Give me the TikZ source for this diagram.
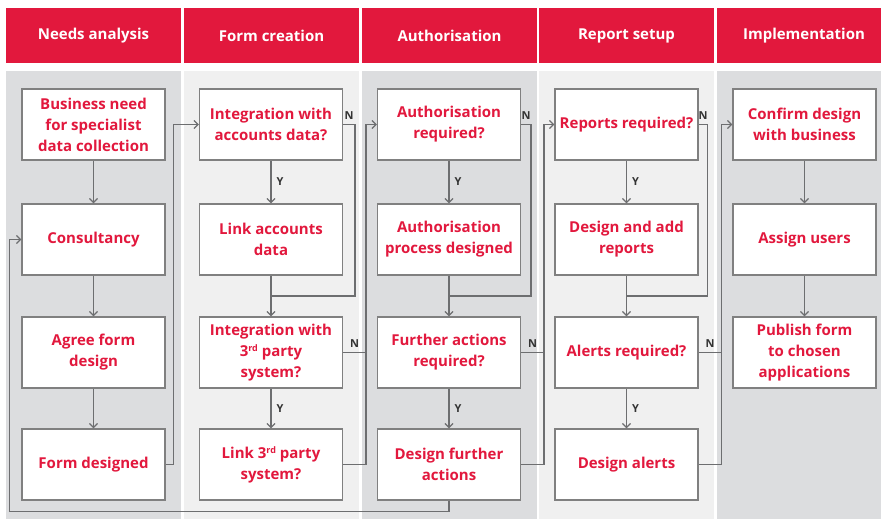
\documentclass[tikz,border=0pt]{standalone}
\usepackage{fontspec}
\setmainfont{Open Sans}
\usetikzlibrary{arrows.meta,calc}
\definecolor{brandred}{HTML}{E2183D}
\definecolor{darkpanel}{HTML}{DCDDDF}
\definecolor{lightpanel}{HTML}{F0F0F0}
\definecolor{linegray}{HTML}{6D6E70}
\definecolor{boxgray}{HTML}{808080}

\begin{document}
\begin{tikzpicture}[x=1pt, y=-1pt,
    headbox/.style={fill=brandred, text=white, minimum width=175pt, minimum height=55pt, inner sep=0pt, font=\fontsize{15}{18}\selectfont\bfseries},
    procbox/.style={draw=boxgray, line width=1.2pt, fill=white, text=brandred, minimum width=143pt, minimum height=71pt, inner sep=2pt, align=center, font=\fontsize{15}{21}\selectfont\bfseries},
    flow/.style={draw=linegray, line width=1.3pt, >={Straight Barb[length=4pt,width=8pt]}},
    yn/.style={text=black!80, inner sep=1pt, font=\fontsize{11}{11}\selectfont\bfseries}]
            \useasboundingbox (0,0) rectangle (881,519);

            % lanes
            \fill[darkpanel] (6,71) rectangle (181,519);
            \fill[lightpanel] (184,71) rectangle (359,519);
            \fill[darkpanel] (362,71) rectangle (537,519);
            \fill[lightpanel] (539,71) rectangle (714,519);
            \fill[darkpanel] (717,71) rectangle (891,519);

            \node[headbox] (hneeds) at (93.5,36) {Needs analysis};
            \node[headbox] (hform) at (271.5,36) {Form creation};
            \node[headbox] (hauth) at (449.5,36) {Authorisation};
            \node[headbox] (hreport) at (626.5,36) {Report setup};
            \node[headbox] (himpl) at (804,36) {Implementation};

            % needs analysis
            \node[procbox] (need) at (93.5,124.5) {Business need\\for specialist\\data collection};
            \node[procbox] (consult) at (93.5,239.5) {Consultancy};
            \node[procbox] (agree) at (93.5,352.5) {Agree form\\design};
            \node[procbox] (formdone) at (93.5,464.5) {Form designed};

            % form creation
            \node[procbox] (integacc) at (271,124.5) {Integration with\\accounts data?};
            \node[procbox] (linkacc) at (271,239.5) {Link accounts\\data};
            \node[procbox] (integthird) at (271,352.5) {Integration with\\3{\fontsize{9}{9}\selectfont\raisebox{5pt}{rd}} party\\system?};
            \node[procbox] (linkthird) at (271,464.5) {Link 3{\fontsize{9}{9}\selectfont\raisebox{5pt}{rd}} party\\system?};

            % authorisation
            \node[procbox] (authreq) at (449,124.5) {Authorisation\\required?};
            \node[procbox] (authdes) at (449,239.5) {Authorisation\\process designed};
            \node[procbox] (furtherreq) at (449,352.5) {Further actions\\required?};
            \node[procbox] (furtherdes) at (449,464.5) {Design further\\actions};

            % report setup
            \node[procbox] (repreq) at (626.5,124.5) {Reports required?};
            \node[procbox] (repdes) at (626.5,239.5) {Design and add\\reports};
            \node[procbox] (alertreq) at (626.5,352.5) {Alerts required?};
            \node[procbox] (alertdes) at (626.5,464.5) {Design alerts};

            % implementation
            \node[procbox] (confirm) at (804.5,124.5) {Confirm design\\with business};
            \node[procbox] (assign) at (804.5,239.5) {Assign users};
            \node[procbox] (publish) at (804.5,352.5) {Publish form\\to chosen\\applications};

            \draw[flow,->] (need) -- (consult);
            \draw[flow,->] (consult) -- (agree);
            \draw[flow,->] (agree) -- (formdone);
            \draw[flow,->] (formdone.east) -- ++(8,0) |- (integacc.west);

            \draw[flow,->] (integacc) -- node[yn,right=4pt] {Y} (linkacc);
            \draw[flow] (integacc.east) -- node[yn,above=3pt] {N} ++(12,0) |- ($(linkacc.south)!.5!(integthird.north)$);
            \draw[flow,->] (linkacc) -- (integthird);
            \draw[flow,->] (integthird) -- node[yn,right=4pt] {Y} (linkthird);
            \draw[flow] (integthird.east) -- node[yn,above=3pt] {N} ++(23,0);
            \draw[flow,->] (linkthird.east) -- ++(23,0) |- (authreq.west);

            \draw[flow,->] (authreq) -- node[yn,right=4pt] {Y} (authdes);
            \draw[flow] (authreq.east) -- node[yn,above=3pt] {N} ++(10,0) |- ($(authdes.south)!.5!(furtherreq.north)$);
            \draw[flow,->] (authdes) -- (furtherreq);
            \draw[flow,->] (furtherreq) -- node[yn,right=4pt] {Y} (furtherdes);
            \draw[flow] (furtherreq.east) -- node[yn,above=3pt] {N} ++(23,0);
            \draw[flow,->] (furtherdes.east) -- ++(23,0) |- (repreq.west);
            \draw[flow,->] (furtherdes.south) -- ++(0,11) -| ($(consult.west)+(-12,0)$) -- (consult.west);

            \draw[flow,->] (repreq) -- node[yn,right=4pt] {Y} (repdes);
            \draw[flow] (repreq.east) -- node[yn,above=3pt] {N} ++(9,0) |- ($(repdes.south)!.5!(alertreq.north)$);
            \draw[flow,->] (repdes) -- (alertreq);
            \draw[flow,->] (alertreq) -- node[yn,right=4pt] {Y} (alertdes);
            \draw[flow] (alertreq.east) -- node[yn,above=3pt] {N} ++(23,0);
            \draw[flow,->] (alertdes.east) -- ++(23,0) |- (confirm.west);

            \draw[flow,->] (confirm) -- (assign);
            \draw[flow,->] (assign) -- (publish);
        \end{tikzpicture}
\end{document}
